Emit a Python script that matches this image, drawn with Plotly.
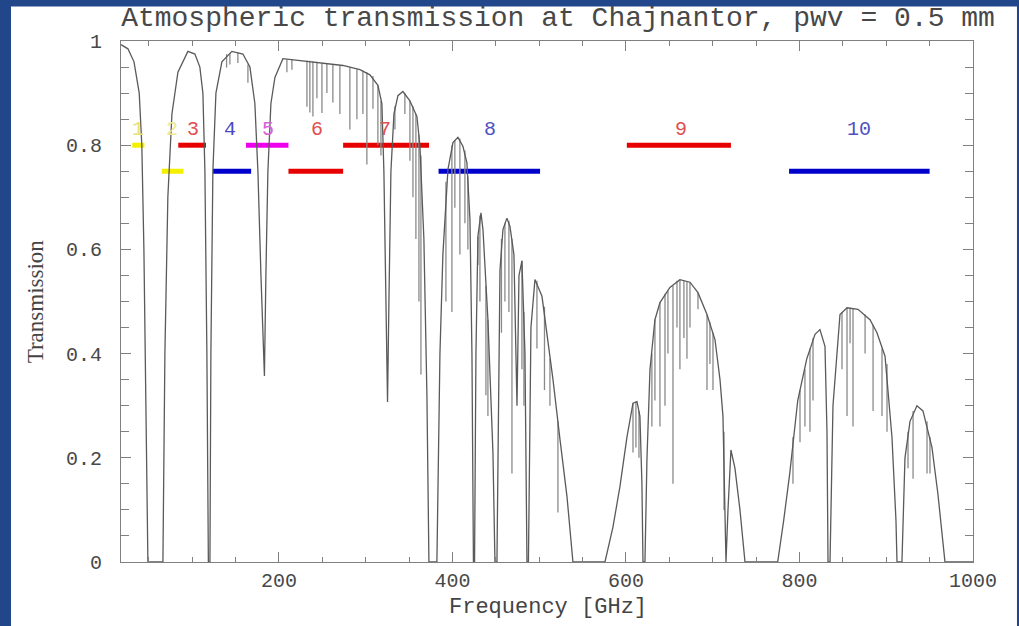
import plotly.graph_objects as go

# ---- transmission envelope (GHz, transmission) ----
freq = [18, 26, 33, 39, 42, 44.4, 46.7, 49.0,
        66.3, 68.6, 72.0, 76.7, 83.6, 95.1, 103.2, 108.9, 112.4, 114.7, 117.0, 118.7,
        120.5, 121.6, 123.9, 127.4, 134.3, 145.8, 158.5, 166.6, 172.3, 175.8, 179.3, 183.3,
        185.0, 187.3, 190.8, 195.4, 204.6, 224.2, 247.3, 273.8, 293.4, 304.9, 314.1, 318.7,
        321.0, 323.3, 325.2, 326.8, 329.1, 332.6, 337.2, 342.9, 351.0, 359.1, 362.5, 367.1,
        370.6, 372.9, 382.1, 385.6, 389.0, 394.8, 400.6, 406.3, 412.1, 416.7, 420.2, 422.5,
        424.2, 425.5, 427.1, 429.4, 432.9, 435.2, 440.9, 446.7, 449.0, 451.3, 454.8, 458.2,
        462.8, 466.3, 470.9, 474.4, 476.7, 480.1, 483.6, 485.9, 487.6, 490.5, 495.1, 503.2,
        508.9, 515.9, 524.0, 532.0, 538.9, 575.8, 585.0, 593.1, 601.2, 608.1, 612.7, 616.1,
        618.4, 619.6, 621.9, 624.2, 627.7, 633.4, 639.2, 650.7, 662.2, 673.8, 683.0, 693.4,
        702.6, 708.4, 711.8, 715.3, 717.6, 721.0, 725.6, 731.4, 737.2, 774.9, 781.8, 788.8,
        798.0, 808.4, 817.9, 823.6, 829.4, 831.7, 832.9, 835.2, 838.6, 843.2, 846.7, 854.8,
        867.4, 881.3, 889.3, 898.6, 906.6, 911.2, 912.4, 918.1, 921.6, 927.4, 935.4, 942.3,
        952.7, 959.6, 967.7, 1000]
trans = [0.993, 0.985, 0.96, 0.90, 0.80, 0.60, 0.30, 0.0,
         0.0, 0.40, 0.70, 0.86, 0.94, 0.98, 0.975, 0.95, 0.90, 0.75, 0.40, 0.0,
         0.0, 0.40, 0.75, 0.90, 0.96, 0.98, 0.975, 0.95, 0.88, 0.75, 0.55, 0.357,
         0.55, 0.75, 0.88, 0.93, 0.966, 0.962, 0.958, 0.953, 0.945, 0.935, 0.915, 0.88,
         0.75, 0.50, 0.307, 0.50, 0.75, 0.86, 0.895, 0.903, 0.885, 0.855, 0.80, 0.62,
         0.32, 0.0, 0.0, 0.40, 0.59, 0.753, 0.805, 0.815, 0.798, 0.766, 0.657, 0.40,
         0.0, 0.0, 0.40, 0.625, 0.67, 0.638, 0.465, 0.21, 0.0, 0.0, 0.56, 0.638,
         0.66, 0.644, 0.59, 0.30, 0.55, 0.578, 0.40, 0.0, 0.0, 0.45, 0.542, 0.51,
         0.44, 0.35, 0.235, 0.126, 0.0, 0.0, 0.067, 0.145, 0.24, 0.305, 0.308, 0.28,
         0.15, 0.0, 0.0, 0.197, 0.37, 0.465, 0.498, 0.527, 0.542, 0.537, 0.517, 0.475,
         0.427, 0.35, 0.28, 0.0, 0.10, 0.215, 0.18, 0.10, 0.0, 0.0, 0.08, 0.17,
         0.31, 0.39, 0.437, 0.446, 0.414, 0.25, 0.0, 0.0, 0.30, 0.41, 0.475, 0.488,
         0.485, 0.465, 0.44, 0.395, 0.24, 0.08, 0.0, 0.0, 0.20, 0.27, 0.30, 0.29,
         0.22, 0.13, 0.0, 0.0]

# ---- narrow absorption lines (GHz, level at top, level at bottom) ----
line_freq = [139.7, 143.5, 152.7, 164.3,
             209.2, 215.0, 232.3, 235.7, 239.2, 243.8, 249.6, 255.3, 262.2, 270.3, 281.8,
             289.9, 296.8, 301.4, 308.4, 314.1, 317.6,
             333.7, 345.2, 351.0, 354.5, 357.9, 361.4, 363.7,
             392.5, 399.4, 402.8, 408.6, 414.4, 417.8,
             429.4, 431.7, 438.6, 440.9,
             456.5, 460.5, 465.1, 468.6, 480.1, 482.4,
             497.4, 506.1, 512.4, 521.6,
             608.1, 611.5, 615.0,
             629.9, 633.4, 639.2, 645.0, 648.4, 654.2, 658.8, 662.2, 666.8, 670.3, 673.8,
             683.0, 693.4, 696.8, 700.3, 713.0,
             792.5, 800.6, 806.3, 812.1, 815.6,
             849.0, 854.8, 858.3, 861.7, 875.6, 884.8, 895.1, 900.9,
             925.1, 930.9, 947.0, 950.4]
line_top = [0.975, 0.977, 0.978, 0.955,
            0.965, 0.964, 0.962, 0.962, 0.961, 0.960, 0.958, 0.957, 0.955, 0.953, 0.950,
            0.946, 0.943, 0.940, 0.933, 0.915, 0.885,
            0.875, 0.900, 0.885, 0.875, 0.860, 0.820, 0.780,
            0.730, 0.800, 0.810, 0.813, 0.790, 0.740,
            0.625, 0.665, 0.530, 0.465,
            0.620, 0.650, 0.655, 0.620, 0.578, 0.480,
            0.540, 0.490, 0.390, 0.270,
            0.305, 0.308, 0.290,
            0.400, 0.465, 0.498, 0.515, 0.520, 0.530, 0.540, 0.542, 0.540, 0.538, 0.537,
            0.517, 0.475, 0.460, 0.440, 0.250,
            0.240, 0.330, 0.370, 0.410, 0.430,
            0.480, 0.488, 0.488, 0.487, 0.475, 0.455, 0.410, 0.380,
            0.250, 0.290, 0.270, 0.240]
line_bottom = [0.949, 0.955, 0.958, 0.920,
               0.940, 0.945, 0.874, 0.863, 0.855, 0.890, 0.862, 0.900, 0.882, 0.860, 0.830,
               0.850, 0.860, 0.763, 0.870, 0.800, 0.780,
               0.830, 0.860, 0.770, 0.700, 0.620, 0.500, 0.360,
               0.500, 0.480, 0.680, 0.590, 0.650, 0.600,
               0.570, 0.500, 0.320, 0.280,
               0.440, 0.500, 0.480, 0.170, 0.370, 0.300,
               0.410, 0.330, 0.300, 0.095,
               0.210, 0.220, 0.200,
               0.260, 0.310, 0.260, 0.300, 0.400, 0.150, 0.450, 0.370, 0.430, 0.390, 0.450,
               0.485, 0.330, 0.380, 0.330, 0.100,
               0.150, 0.230, 0.260, 0.250, 0.310,
               0.370, 0.280, 0.420, 0.260, 0.400, 0.290, 0.280, 0.250,
               0.180, 0.160, 0.170, 0.170]

# ---- ALMA receiver bands ----
band_names = ["1", "2", "3", "4", "5", "6", "7", "8", "9", "10"]
band_lo = [31, 65, 84, 124, 162, 211, 274, 384, 601, 788]
band_hi = [45, 90, 116, 168, 211, 274, 373, 501, 721, 950]
band_level = [0.80, 0.75, 0.80, 0.75, 0.80, 0.75, 0.80, 0.75, 0.80, 0.75]
band_color = ["#f4f000", "#f4f000", "#e60000", "#0000cc", "#ee00ee",
              "#e60000", "#e60000", "#0000cc", "#e60000", "#0000cc"]
label_freq = [37.8, 76.3, 101.2, 143.5, 187.7, 243.5, 322.2, 443.2, 663.4, 868.6]
label_level = 0.83
label_color = ["#e8e070", "#ece890", "#e05050", "#4a4ac0", "#d860d8",
               "#e05050", "#e05050", "#5050c0", "#e05050", "#5050c0"]

TITLE = "Atmospheric transmission at Chajnantor, pwv = 0.5 mm"
XTITLE = "Frequency [GHz]"
YTITLE = "Transmission"

FONT = "Liberation Mono"

fig = go.Figure()

# bands
for lo, hi, lev, col in zip(band_lo, band_hi, band_level, band_color):
    fig.add_trace(go.Scatter(x=[lo, hi], y=[lev, lev], mode="lines",
                             line=dict(color=col, width=5), hoverinfo="skip",
                             showlegend=False))

# narrow lines
sx, sy = [], []
for f, t, b in zip(line_freq, line_top, line_bottom):
    sx += [f, f, None]
    sy += [t, b, None]
fig.add_trace(go.Scatter(x=sx, y=sy, mode="lines",
                         line=dict(color="#8a8a8a", width=1.3), showlegend=False,
                         hoverinfo="skip"))

# envelope
fig.add_trace(go.Scatter(x=freq, y=trans, mode="lines",
                         line=dict(color="#5a5a5a", width=1.3), showlegend=False))

for name, f, col in zip(band_names, label_freq, label_color):
    fig.add_annotation(x=f, y=label_level, text=name, showarrow=False,
                       font=dict(family=FONT, size=20, color=col),
                       xanchor="center", yanchor="middle")

# axis titles
fig.add_annotation(xref="paper", yref="paper", x=0.501, y=-0.0875, text=XTITLE,
                   showarrow=False, font=dict(family=FONT, size=22, color="#444444"),
                   xanchor="center", yanchor="middle")
fig.add_annotation(xref="paper", yref="paper", x=-0.1, y=0.5, text=YTITLE,
                   showarrow=False, textangle=-90,
                   font=dict(family="Liberation Serif", size=23, color="#444444"),
                   xanchor="center", yanchor="middle")

# white page inside blue frame
fig.add_shape(type="rect", xref="paper", yref="paper",
              x0=-0.1291, x1=1.0516, y0=-0.2, y1=1.0662,
              fillcolor="white", line=dict(width=0), layer="below")

axis_common = dict(showgrid=False, zeroline=False, showline=True, mirror="ticks",
                   linecolor="#808080", linewidth=1, ticks="inside",
                   tickcolor="#808080", tickwidth=1,
                   tickfont=dict(family=FONT, size=20, color="#484848"))

fig.update_xaxes(range=[18, 1000], tick0=0, dtick=200, ticklen=10,
                 minor=dict(dtick=50, tick0=0, ticks="inside", ticklen=5,
                            tickcolor="#808080"),
                 ticklabelstandoff=0, **axis_common)
fig.update_yaxes(range=[0, 1], tick0=0, dtick=0.2, ticklen=10,
                 minor=dict(dtick=0.05, tick0=0, ticks="inside", ticklen=8,
                            tickcolor="#808080"),
                 ticklabelstandoff=14, **axis_common)

fig.update_layout(
    width=1019, height=626,
    margin=dict(l=121, r=46, t=41, b=64),
    paper_bgcolor="#22468a",
    plot_bgcolor="white",
    title=dict(text=TITLE, x=558 / 1019, xanchor="center", xref="container",
               y=1 - 16 / 626, yanchor="middle", yref="container",
               font=dict(family=FONT, size=28, color="#484848")),
)

fig.write_html("out.html")
